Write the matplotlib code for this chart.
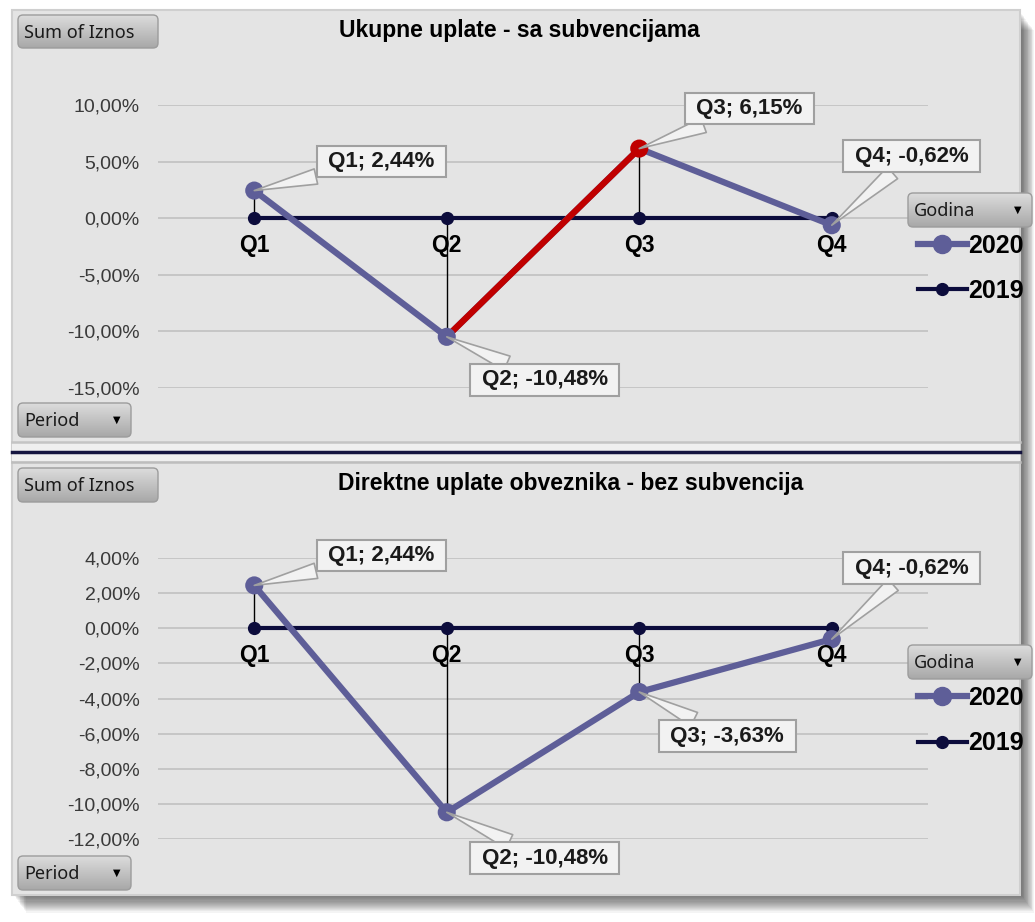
import numpy as np
import matplotlib
matplotlib.use("Agg")
from matplotlib import pyplot as plt
from matplotlib.patches import FancyBboxPatch, Rectangle
from matplotlib.colors import LinearSegmentedColormap
from matplotlib.lines import Line2D
from matplotlib.ticker import FuncFormatter, FixedLocator

plt.rcParams['font.family'] = ['Liberation Sans', 'DejaVu Sans']

# podaci
kvartali = ['Q1', 'Q2', 'Q3', 'Q4']
godine = ['2020', '2019']
ukupno_2020 = [2.44, -10.48, 6.15, -0.62]
ukupno_2019 = [0, 0, 0, 0]
direktno_2020 = [2.44, -10.48, -3.63, -0.62]
direktno_2019 = [0, 0, 0, 0]
naslov_gore = 'Ukupne uplate - sa subvencijama'
naslov_dole = 'Direktne uplate obveznika - bez subvencija'
ticks_gore = [10, 5, 0, -5, -10, -15]
ticks_dole = [4, 2, 0, -2, -4, -6, -8, -10, -12]

C2020 = '#5e5e98'
C2019 = '#0c0c3c'
CRED = '#c00000'
W, H = 1035, 922

fig = plt.figure(figsize=(W / 100, H / 100), dpi=100)
fig.patch.set_facecolor('white')

# pozadina u pikselima
bg = fig.add_axes([0, 0, 1, 1], zorder=0)
bg.set_axis_off()
# dugmad iznad grafika
top = fig.add_axes([0, 0, 1, 1], zorder=2)
top.set_axis_off()
top.patch.set_alpha(0)

# senka
for i in range(16):
    bg.add_patch(Rectangle((14 + i * 0.8, 14 + i * 1.1), 1008, 882, fc='black', alpha=0.045, lw=0))
bg.add_patch(Rectangle((12, 10), 1008, 885, fc='#e4e4e4', ec='#cfcfcf', lw=1.5))

# separator
bg.add_patch(Rectangle((12, 443), 1008, 18, fc='#efefef', lw=0))
bg.plot([12, 1020], [442, 442], color='#c4c4c4', lw=1.8)
bg.plot([12, 1020], [452, 452], color='#14143f', lw=2.5)
bg.plot([12, 1020], [462, 462], color='#bdbdbd', lw=1.8)

cmap_btn = LinearSegmentedColormap.from_list('btn', ['#dcdcdc', '#a8a8a8'])
grad = np.linspace(0, 1, 60).reshape(-1, 1)


def dugme(x0, y0, x1, y1, tekst, strelica=False):
    p = FancyBboxPatch((x0, y0), x1 - x0, y1 - y0, boxstyle='round,pad=0,rounding_size=5',
                       fc='none', ec='#9c9c9c', lw=1, zorder=5)
    top.add_patch(p)
    im = top.imshow(grad, extent=(x0, x1, y1, y0), cmap=cmap_btn, aspect='auto', zorder=4)
    im.set_clip_path(p)
    top.text(x0 + 6, (y0 + y1) / 2 + 1, tekst, family='Noto Sans', fontsize=13,
             color='#1a1a1a', va='center', ha='left', zorder=6)
    if strelica:
        top.text(x1 - 14, (y0 + y1) / 2, '▼', family='DejaVu Sans', fontsize=7,
                 color='black', va='center', ha='center', zorder=6)


dugme(18, 15, 158, 48, 'Sum of Iznos')
dugme(18, 403, 131, 437, 'Period', True)
dugme(18, 468, 158, 502, 'Sum of Iznos')
dugme(18, 856, 131, 890, 'Period', True)
dugme(908, 193, 1032, 227, 'Godina', True)
dugme(908, 645, 1032, 679, 'Godina', True)

bg.text(519, 31, naslov_gore, fontsize=16.5, fontweight='bold', ha='center', va='center', color='black')
bg.text(571, 483, naslov_dole, fontsize=16.5, fontweight='bold', ha='center', va='center', color='black')

for a in (bg, top):
    a.set_xlim(0, W)
    a.set_ylim(H, 0)


def fmt(v, p=None):
    return f'{v:.2f}'.replace('.', ',') + '%'


def grafik(rect, ylim, ticks, y2020, y2019, pomeraji, crveno=None):
    x0, ytop, x1, ybot = rect
    ax = fig.add_axes([x0 / W, 1 - ybot / H, (x1 - x0) / W, (ybot - ytop) / H], zorder=1)
    ax.patch.set_alpha(0)
    for s in ax.spines.values():
        s.set_visible(False)
    x = np.arange(1, len(kvartali) + 1)
    ax.set_xlim(0.5, len(kvartali) + 0.5)
    ax.set_ylim(*ylim)
    ax.yaxis.set_major_locator(FixedLocator(ticks))
    ax.yaxis.set_major_formatter(FuncFormatter(fmt))
    ax.tick_params(axis='y', length=0, pad=13, labelsize=14, labelcolor='#3a3a3a')
    ax.set_xticks([])
    ax.grid(axis='y', color='#c6c6c6', lw=1.4)
    ax.set_axisbelow(True)

    ax.vlines(x, y2019, y2020, color='black', lw=1, zorder=3)
    ax.plot(x, y2019, color=C2019, lw=3, marker='o', ms=8.5, zorder=4, clip_on=False)
    ax.plot(x, y2020, color=C2020, lw=4.5, zorder=5, clip_on=False, solid_capstyle='round')
    boje = [C2020] * len(x)
    if crveno is not None:
        a, b = crveno
        ax.plot(x[a:b + 1], y2020[a:b + 1], color=CRED, lw=4.5, zorder=5.5, clip_on=False,
                solid_capstyle='round')
        boje[b] = CRED
    ax.scatter(x, y2020, s=170, c=boje, zorder=6, clip_on=False, linewidths=0)

    for i, q in enumerate(kvartali):
        ax.annotate(q, (x[i], 0), xytext=(0, -19.5), textcoords='offset points',
                    ha='center', va='center', fontsize=16.5, fontweight='bold', color='black',
                    annotation_clip=False, zorder=7)
        dx, dy = pomeraji[i]
        ax.annotate(' ' + q + '; ' + fmt(y2020[i]) + ' ', (x[i], y2020[i]),
                    xytext=(dx * 0.72, dy * 0.72), textcoords='offset points',
                    ha='center', va='center', fontsize=16, fontweight='bold', color='#1a1a1a',
                    bbox=dict(boxstyle='square,pad=0.24', fc='#f2f2f2', ec='#a0a0a0', lw=1.5),
                    arrowprops=dict(arrowstyle='wedge,tail_width=0.7', fc='#f2f2f2', ec='#a0a0a0',
                                    lw=1.2, shrinkA=0, shrinkB=0),
                    annotation_clip=False, zorder=8)
    return ax


ax1 = grafik((158, 105, 928, 388), (-15, 10), ticks_gore, ukupno_2020, ukupno_2019,
             [(127, 29), (98, -43), (110, 40), (80, 69)], crveno=(1, 2))
ax2 = grafik((158, 558, 928, 839), (-12, 4), ticks_dole, direktno_2020, direktno_2019,
             [(127, 30), (98, -46), (88, -44), (80, 71)])

ruke = [Line2D([], [], color=C2020, lw=4.5, marker='o', ms=13),
        Line2D([], [], color=C2019, lw=3, marker='o', ms=8.5)]
for ytop in (234, 686):
    fig.legend(ruke, godine, loc='upper left', bbox_to_anchor=(918 / W, 1 - ytop / H),
               frameon=False, prop=dict(size=18, weight='bold'), handlelength=1.95,
               handletextpad=0.05, labelspacing=0.85, borderpad=0, borderaxespad=0)

plt.savefig('out.png', dpi=100, facecolor=fig.get_facecolor())
